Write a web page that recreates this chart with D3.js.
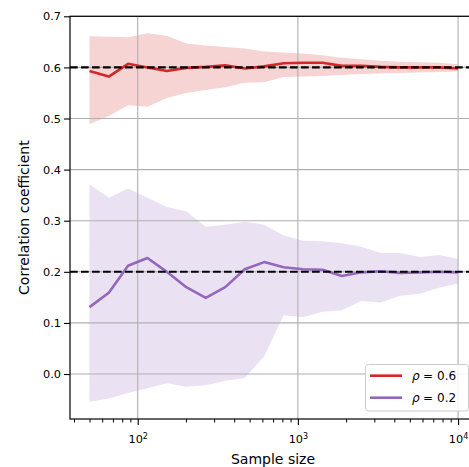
<!DOCTYPE html>
<html>
<head>
<meta charset="utf-8">
<script src="https://cdn.jsdelivr.net/npm/d3@7"></script>
<style>
  html, body { margin: 0; padding: 0; background: #fff; }
  svg { display: block; overflow: hidden; }
  text { font-family: "DejaVu Sans", sans-serif; fill: #000; }
</style>
</head>
<body>
<svg id="chart" width="469" height="467"></svg>
<script>
// ---- data ----
const sampleSizes = [50, 66, 87, 115, 152, 201, 266, 352, 466, 616, 815, 1077, 1424, 1883, 2490, 3292, 4353, 5756, 7611, 10000];

const rho06Mean  = [0.593, 0.582, 0.607, 0.600, 0.593, 0.599, 0.601, 0.604, 0.598, 0.602, 0.608, 0.609, 0.609, 0.603, 0.603, 0.601, 0.600, 0.600, 0.600, 0.598];
const rho06Upper = [0.661, 0.660, 0.659, 0.667, 0.662, 0.647, 0.643, 0.640, 0.637, 0.631, 0.629, 0.627, 0.624, 0.619, 0.616, 0.613, 0.611, 0.610, 0.609, 0.606];
const rho06Lower = [0.489, 0.505, 0.526, 0.523, 0.540, 0.550, 0.556, 0.561, 0.570, 0.571, 0.581, 0.582, 0.583, 0.585, 0.587, 0.588, 0.589, 0.590, 0.591, 0.592];

const rho02Mean  = [0.131, 0.159, 0.212, 0.227, 0.200, 0.170, 0.149, 0.170, 0.205, 0.219, 0.209, 0.205, 0.204, 0.192, 0.199, 0.201, 0.198, 0.199, 0.200, 0.199];
const rho02Upper = [0.371, 0.345, 0.363, 0.345, 0.327, 0.318, 0.288, 0.292, 0.298, 0.292, 0.271, 0.261, 0.260, 0.256, 0.249, 0.237, 0.237, 0.229, 0.233, 0.225];
const rho02Lower = [-0.054, -0.048, -0.037, -0.028, -0.018, -0.025, -0.022, -0.013, -0.008, 0.035, 0.115, 0.111, 0.122, 0.125, 0.143, 0.140, 0.153, 0.157, 0.169, 0.177];

const trueValues = [0.6, 0.2];
const seriesNames = ["0.6", "0.2"];
const seriesColors = ["#d62728", "#9467bd"];

const yTicks = [0.0, 0.1, 0.2, 0.3, 0.4, 0.5, 0.6, 0.7];
const xMajorTicks = [100, 1000, 10000];
const xMajorExp = ["2", "3", "4"];
const xMinorTicks = [40, 50, 60, 70, 80, 90, 200, 300, 400, 500, 600, 700, 800, 900,
                     2000, 3000, 4000, 5000, 6000, 7000, 8000, 9000];

(function () {
// ---- layout ----
const mLeft = 70, mRight = 476, mTop = 16.3, mBottom = 419;
const svg = d3.select("#chart");

const x = d3.scaleLog()
  .domain([Math.pow(10, 1.5773), Math.pow(10, 4.112)])
  .range([mLeft, mRight]);
const y = d3.scaleLinear()
  .domain([-0.088, 0.7])
  .range([mBottom, mTop]);

const series = [
  {mean: rho06Mean, upper: rho06Upper, lower: rho06Lower, color: seriesColors[0], name: seriesNames[0]},
  {mean: rho02Mean, upper: rho02Upper, lower: rho02Lower, color: seriesColors[1], name: seriesNames[1]}
];

const plot = svg.append("g");

// bands
const area = d3.area()
  .x((d, i) => x(sampleSizes[i]))
  .y0(d => y(d[0]))
  .y1(d => y(d[1]));
series.forEach(s => {
  plot.append("path")
    .datum(s.lower.map((v, i) => [v, s.upper[i]]))
    .attr("d", area)
    .attr("fill", s.color)
    .attr("fill-opacity", 0.2)
    .attr("stroke", "none");
});

// grid
const grid = plot.append("g").attr("stroke", "#b0b0b0").attr("stroke-width", 1.1);
yTicks.forEach(t => {
  grid.append("line").attr("x1", mLeft).attr("x2", mRight)
    .attr("y1", y(t)).attr("y2", y(t));
});
xMajorTicks.forEach(t => {
  grid.append("line").attr("x1", x(t)).attr("x2", x(t))
    .attr("y1", mTop).attr("y2", mBottom);
});

// mean lines
const line = d3.line()
  .x((d, i) => x(sampleSizes[i]))
  .y(d => y(d));
series.forEach(s => {
  plot.append("path")
    .datum(s.mean)
    .attr("d", line)
    .attr("fill", "none")
    .attr("stroke", s.color)
    .attr("stroke-width", 2.6)
    .attr("stroke-linejoin", "round");
});

// true value dashed lines
trueValues.forEach(v => {
  plot.append("line")
    .attr("x1", mLeft).attr("x2", mRight)
    .attr("y1", y(v)).attr("y2", y(v))
    .attr("stroke", "#000")
    .attr("stroke-width", 2.1)
    .attr("stroke-dasharray", "7.7,3.3");
});

// axes
const yAxis = d3.axisLeft(y).tickValues(yTicks).tickFormat(d3.format(".1f"))
  .tickSize(6).tickPadding(3);
const gy = svg.append("g").attr("transform", `translate(${mLeft},0)`).call(yAxis);
gy.select(".domain").remove();
gy.selectAll(".tick line").attr("stroke", "#000").attr("stroke-width", 1.1);
gy.selectAll(".tick text").attr("font-size", "11.3px").attr("font-family", "DejaVu Sans").attr("fill", "#000");

const xAxisMinor = d3.axisBottom(x).tickValues(xMinorTicks).tickFormat("").tickSize(3.5);
const gxm = svg.append("g").attr("transform", `translate(0,${mBottom})`).call(xAxisMinor);
gxm.select(".domain").remove();
gxm.selectAll(".tick line").attr("stroke", "#000").attr("stroke-width", 1);

const xAxis = d3.axisBottom(x).tickValues(xMajorTicks).tickFormat("").tickSize(6);
const gx = svg.append("g").attr("transform", `translate(0,${mBottom})`).call(xAxis);
gx.select(".domain").remove();
gx.selectAll(".tick line").attr("stroke", "#000").attr("stroke-width", 1.1);
gx.selectAll(".tick").each(function(d, i) {
  const t = d3.select(this).append("text")
    .attr("y", 24)
    .attr("text-anchor", "middle")
    .attr("font-size", "11.3px")
    .attr("fill", "#000");
  t.append("tspan").text("10");
  t.append("tspan").attr("dy", "-4.5").attr("font-size", "8px").text(xMajorExp[i]);
});

// spines
const spines = svg.append("g").attr("stroke", "#000").attr("stroke-width", 1.2).attr("fill", "none");
spines.append("rect").attr("x", mLeft).attr("y", mTop)
  .attr("width", mRight - mLeft).attr("height", mBottom - mTop);

// axis labels
svg.append("text")
  .attr("x", (mLeft + mRight) / 2).attr("y", 464)
  .attr("text-anchor", "middle")
  .attr("font-size", "14px")
  .text("Sample size");
svg.append("text")
  .attr("transform", `translate(28.5,${(mTop + mBottom) / 2}) rotate(-90)`)
  .attr("text-anchor", "middle")
  .attr("font-size", "14px")
  .text("Correlation coefficient");

// legend
const lg = svg.append("g");
lg.append("rect")
  .attr("x", 365.5).attr("y", 364.5).attr("width", 103).attr("height", 46.5)
  .attr("rx", 3).attr("ry", 3)
  .attr("fill", "#fff").attr("fill-opacity", 0.85)
  .attr("stroke", "#cccccc").attr("stroke-width", 1);
series.forEach((s, i) => {
  const yy = 375.7 + i * 22;
  lg.append("line").attr("x1", 370).attr("x2", 402).attr("y1", yy).attr("y2", yy)
    .attr("stroke", s.color).attr("stroke-width", 2.6);
  const t = lg.append("text").attr("x", 412).attr("y", yy + 4.4).attr("font-size", "12px");
  t.append("tspan").attr("font-style", "italic").text("ρ");
  t.append("tspan").attr("x", 423).text("=");
  t.append("tspan").attr("x", 437).text(s.name);
});
})();
</script>
</body>
</html>
